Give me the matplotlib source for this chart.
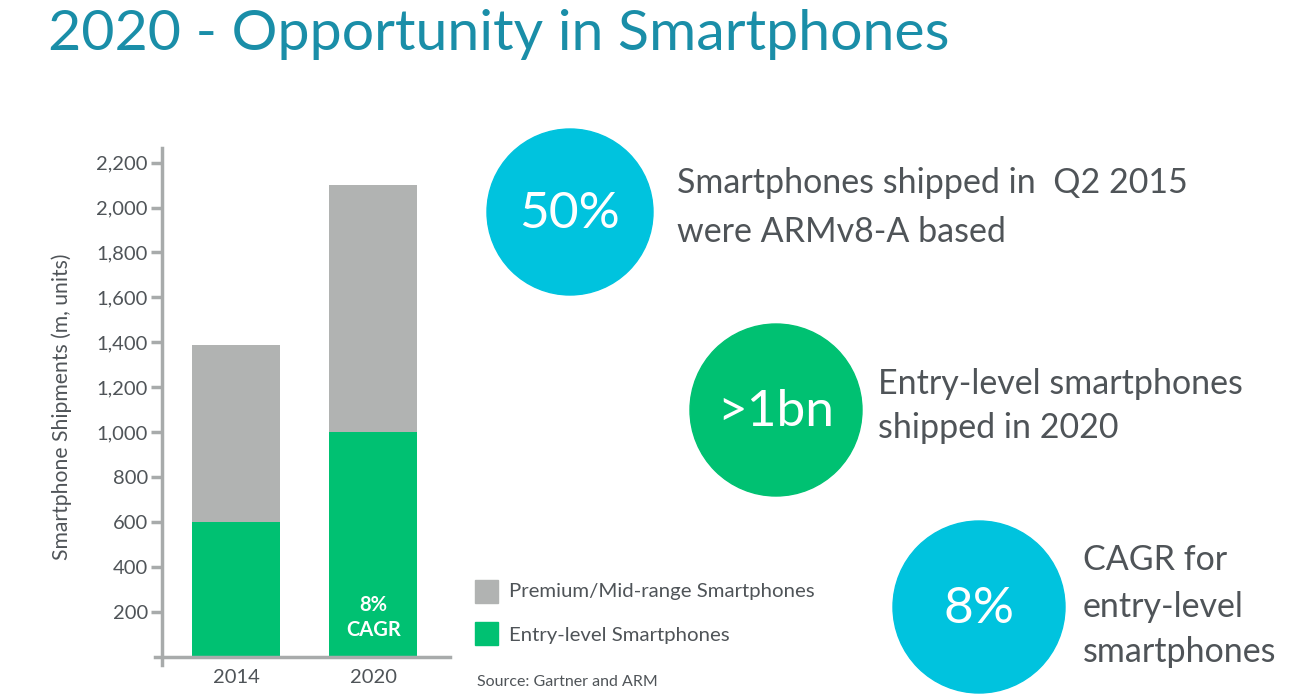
import matplotlib
matplotlib.use("Agg")
import matplotlib.pyplot as plt
from matplotlib.patches import Circle, Rectangle

plt.rcParams['font.family'] = ['Lato', 'DejaVu Sans']

years = ["2014", "2020"]
entry_level = [600, 1000]
premium_mid = [790, 1100]
yticks = [200, 400, 600, 800, 1000, 1200, 1400, 1600, 1800, 2000, 2200]
series_names = ["Premium/Mid-range Smartphones", "Entry-level Smartphones"]

GREY = "#B1B3B2"
GREEN = "#00C172"
BLUE = "#00C3DE"
TEXT = "#4F5458"
TITLE = "#1A8EA8"
AXIS = "#A8ABAB"

W, H = 1296, 695
fig = plt.figure(figsize=(W / 100, H / 100), dpi=100)
fig.patch.set_facecolor("white")

def fx(px):
    return px / W

def fy(py):
    return 1 - py / H

# axes box spans pixels x 155..450, y 148..665 ; data 0 at y=657, spine at x=162
ax = fig.add_axes([fx(155), fy(665), fx(450) - fx(155), fy(148) - fy(665)])
x = list(range(len(years)))
ax.bar(x, entry_level, width=0.64, color=GREEN, zorder=2)
ax.bar(x, premium_mid, width=0.64, bottom=entry_level, color=GREY, zorder=2)
ax.set_xlim(-0.59, 1.56)
ax.set_ylim(-36, 2265)
ax.set_yticks(yticks)
ax.set_yticklabels([f"{v:,}" for v in yticks])
ax.set_xticks(x)
ax.set_xticklabels(years)
for s in ["top", "right"]:
    ax.spines[s].set_visible(False)
for s in ["left", "bottom"]:
    ax.spines[s].set_color(AXIS)
    ax.spines[s].set_linewidth(2.5)
ax.spines["bottom"].set_position(("data", 0))
ax.spines["left"].set_position(("data", -0.54))
ax.tick_params(axis="y", colors=AXIS, labelcolor=TEXT, labelsize=14.5, length=8, width=2.5, pad=2)
ax.tick_params(axis="x", length=0, labelcolor=TEXT, labelsize=14.5, pad=9)
ax.text(1, 175, "8%\nCAGR", ha="center", va="center", color="white",
        fontsize=14.5, fontweight="bold", linespacing=1.3, zorder=3)

fig.text(fx(62), fy(407), "Smartphone Shipments (m, units)", rotation=90,
         ha="center", va="center", color=TEXT, fontsize=15.2)

# Legend
fig.patches.append(Rectangle((fx(475), fy(603)), fx(23), fy(580) - fy(603),
                             transform=fig.transFigure, color=GREY))
fig.patches.append(Rectangle((fx(475), fy(645)), fx(23), fy(622) - fy(645),
                             transform=fig.transFigure, color=GREEN))
fig.text(fx(509), fy(592), series_names[0], ha="left", va="center", color=TEXT, fontsize=14.7)
fig.text(fx(509), fy(636), series_names[1], ha="left", va="center", color=TEXT, fontsize=14.7)
fig.text(fx(477), fy(682), "Source: Gartner and ARM", ha="left", va="center", color=TEXT, fontsize=11.5)

# Title
fig.text(fx(48), fy(34), "2020 - Opportunity in Smartphones", ha="left", va="center",
         color=TITLE, fontsize=41.2)

# Circles
ov = fig.add_axes([0, 0, 1, 1], facecolor="none")
ov.set_xlim(0, W)
ov.set_ylim(H, 0)
ov.set_aspect("equal")
ov.axis("off")
circles = [(570, 212, 83, BLUE, "50%"), (776, 410, 86, GREEN, ">1bn"), (979, 607, 86, BLUE, "8%")]
for cx, cy, r, c, t in circles:
    ov.add_patch(Circle((cx, cy), r, color=c))
    ov.text(cx, cy + 2, t, ha="center", va="center", color="white", fontsize=37)

fs = 24.5
ov.text(677, 183, "Smartphones shipped in  Q2 2015", ha="left", va="center", color=TEXT, fontsize=fs)
ov.text(677, 232, "were ARMv8-A based", ha="left", va="center", color=TEXT, fontsize=fs)
ov.text(878, 384, "Entry-level smartphones", ha="left", va="center", color=TEXT, fontsize=fs)
ov.text(878, 428, "shipped in 2020", ha="left", va="center", color=TEXT, fontsize=fs)
ov.text(1083, 560, "CAGR for", ha="left", va="center", color=TEXT, fontsize=fs)
ov.text(1083, 607, "entry-level", ha="left", va="center", color=TEXT, fontsize=fs)
ov.text(1083, 652, "smartphones", ha="left", va="center", color=TEXT, fontsize=fs)

fig.savefig("out.png", dpi=100)
